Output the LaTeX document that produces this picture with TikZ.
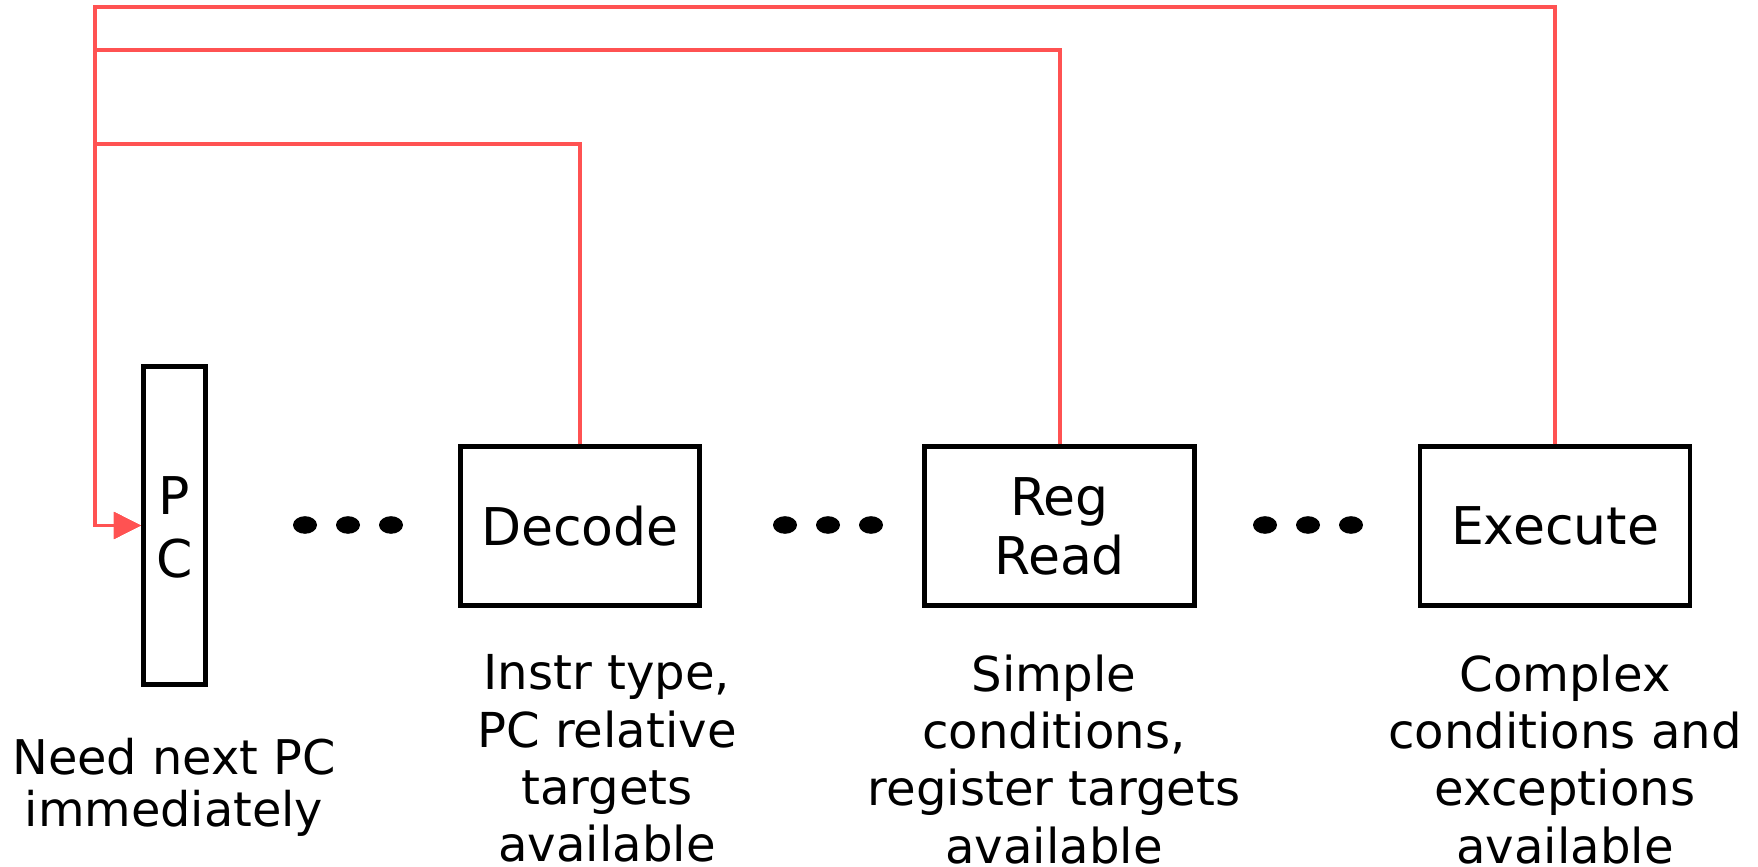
\documentclass[tikz,border=0pt]{standalone}
\usepackage{fontspec}
\setmainfont{DejaVu Sans}
\usetikzlibrary{arrows.meta}

\begin{document}
\begin{tikzpicture}[
    every node/.style={font=\fontsize{14.8}{16.3}\selectfont},
]

% ---------------------------------------------------------------- colours
\definecolor{fbred}{HTML}{FF5252}   % the redirect paths back to the PC

% ---------------------------------------------------------------- styles
\tikzset{
    stage/.style={
        rectangle, draw=black, line width=1.3pt, fill=white,
        minimum height=1.585cm, align=center, inner sep=0pt,
    },
    note/.style={
        align=center, anchor=north, inner sep=0pt,
        font=\fontsize{13.7}{16.3}\selectfont,
    },
    redirect/.style={
        draw=fbred, line width=1.13pt,
        -{Triangle[length=0.27cm, width=0.26cm]},
    },
}

% ================================================================
% GEOMETRY (1 px of the drawing = 0.01 cm)
%   stage row     y = 3.40
%   notes start   y = 2.12
%   bus column    x = 0.95
%   bus levels    y = 7.22 / 8.16 / 8.59
% ================================================================
\useasboundingbox (0,0) rectangle (17.58,8.66);

% ---------------------------------------------------------------- the stages
\node[stage, minimum width=0.625cm, minimum height=3.18cm] (pc) at (1.745,3.405)
    {\rule{0pt}{12pt}P\\[1.5pt]C};
\node[stage, minimum width=2.39cm] (decode) at (5.80,3.40) {Decode};
\node[stage, minimum width=2.70cm] (regread) at (10.595,3.40) {Reg\\[0.5pt]Read};
\node[stage, minimum width=2.70cm] (execute) at (15.55,3.40) {Execute};

% the elided stages in between
\foreach \x in {3.05, 3.48, 3.91, 7.85, 8.28, 8.71, 12.65, 13.08, 13.51} {
    \fill (\x,3.41) ellipse (0.12 and 0.088);
}

% ---------------------------------------------------------------- the notes
\node[note, font=\fontsize{13.6}{14.8}\selectfont] (pcnote) at (1.74,1.29)
    {Need next PC\\immediately};
\node[note] (decnote) at (6.07,2.12)
    {Instr type,\\PC relative\\targets\\available};
\node[note] (regnote) at (10.54,2.12)
    {Simple\\conditions,\\register targets\\available};
\node[note] (exenote) at (15.65,2.12)
    {Complex\\conditions and\\exceptions\\available};

% ---------------------------------------------------------------- redirects
\coordinate (busdec) at (0.95,7.22);
\coordinate (busreg) at (0.95,8.16);
\coordinate (busexe) at (0.95,8.59);

\draw[redirect] (execute.north) |- (busexe) |- (pc.west);
\draw[redirect] (regread.north) |- (busreg) |- (pc.west);
\draw[redirect] (decode.north) |- (busdec) |- (pc.west);

\end{tikzpicture}
\end{document}
